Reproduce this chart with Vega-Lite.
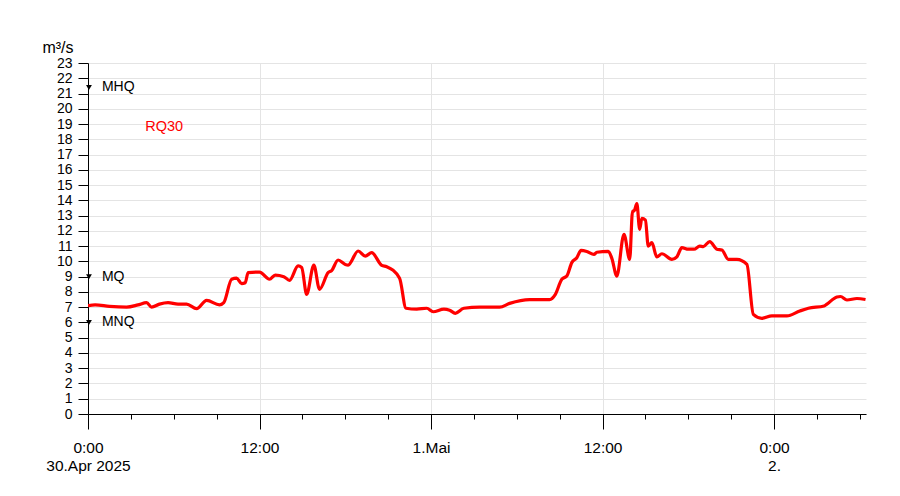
{
  "width": 778,
  "height": 351,
  "padding": {"left": 41, "top": 39, "right": 5, "bottom": 5},
  "background": "white",
  "config": {
    "view": {"stroke": null},
    "font": "Liberation Sans"
  },
  "datasets": {
    "flow": [
      {"t": "2025-04-30T00:00", "q": 7.1},
      {"t": "2025-04-30T00:30", "q": 7.15},
      {"t": "2025-04-30T01:30", "q": 7.05},
      {"t": "2025-04-30T02:42", "q": 7.0},
      {"t": "2025-04-30T03:30", "q": 7.15},
      {"t": "2025-04-30T04:06", "q": 7.3},
      {"t": "2025-04-30T04:27", "q": 7.0},
      {"t": "2025-04-30T05:00", "q": 7.2},
      {"t": "2025-04-30T05:36", "q": 7.3},
      {"t": "2025-04-30T06:18", "q": 7.2},
      {"t": "2025-04-30T06:54", "q": 7.2},
      {"t": "2025-04-30T07:36", "q": 6.9},
      {"t": "2025-04-30T08:18", "q": 7.45},
      {"t": "2025-04-30T09:12", "q": 7.15},
      {"t": "2025-04-30T09:30", "q": 7.3},
      {"t": "2025-04-30T10:03", "q": 8.83},
      {"t": "2025-04-30T10:24", "q": 8.9},
      {"t": "2025-04-30T10:45", "q": 8.54},
      {"t": "2025-04-30T11:00", "q": 8.6},
      {"t": "2025-04-30T11:12", "q": 9.26},
      {"t": "2025-04-30T12:00", "q": 9.3},
      {"t": "2025-04-30T12:42", "q": 8.83},
      {"t": "2025-04-30T13:06", "q": 9.1},
      {"t": "2025-04-30T13:42", "q": 9.0},
      {"t": "2025-04-30T14:06", "q": 8.76},
      {"t": "2025-04-30T14:42", "q": 9.7},
      {"t": "2025-04-30T14:57", "q": 9.6},
      {"t": "2025-04-30T15:18", "q": 7.84},
      {"t": "2025-04-30T15:48", "q": 9.76},
      {"t": "2025-04-30T16:12", "q": 8.17},
      {"t": "2025-04-30T16:48", "q": 9.26},
      {"t": "2025-04-30T17:03", "q": 9.4},
      {"t": "2025-04-30T17:30", "q": 10.09},
      {"t": "2025-04-30T18:00", "q": 9.8},
      {"t": "2025-04-30T18:12", "q": 9.76},
      {"t": "2025-04-30T18:54", "q": 10.68},
      {"t": "2025-04-30T19:24", "q": 10.35},
      {"t": "2025-04-30T19:51", "q": 10.57},
      {"t": "2025-04-30T20:33", "q": 9.74},
      {"t": "2025-04-30T20:54", "q": 9.65},
      {"t": "2025-04-30T21:48", "q": 8.89},
      {"t": "2025-04-30T22:15", "q": 6.93},
      {"t": "2025-04-30T23:00", "q": 6.87},
      {"t": "2025-04-30T23:42", "q": 6.93},
      {"t": "2025-05-01T00:09", "q": 6.7},
      {"t": "2025-05-01T00:54", "q": 6.87},
      {"t": "2025-05-01T01:18", "q": 6.8},
      {"t": "2025-05-01T01:42", "q": 6.6},
      {"t": "2025-05-01T02:18", "q": 6.93},
      {"t": "2025-05-01T03:24", "q": 7.0},
      {"t": "2025-05-01T04:48", "q": 7.0},
      {"t": "2025-05-01T05:30", "q": 7.25},
      {"t": "2025-05-01T06:54", "q": 7.5},
      {"t": "2025-05-01T08:18", "q": 7.5},
      {"t": "2025-05-01T08:42", "q": 7.84},
      {"t": "2025-05-01T09:09", "q": 8.83},
      {"t": "2025-05-01T09:30", "q": 9.04},
      {"t": "2025-05-01T09:51", "q": 9.92},
      {"t": "2025-05-01T10:12", "q": 10.24},
      {"t": "2025-05-01T10:30", "q": 10.72},
      {"t": "2025-05-01T10:54", "q": 10.65},
      {"t": "2025-05-01T11:24", "q": 10.46},
      {"t": "2025-05-01T11:36", "q": 10.6},
      {"t": "2025-05-01T12:24", "q": 10.65},
      {"t": "2025-05-01T12:39", "q": 10.2},
      {"t": "2025-05-01T13:00", "q": 9.04},
      {"t": "2025-05-01T13:30", "q": 11.78},
      {"t": "2025-05-01T13:54", "q": 10.13},
      {"t": "2025-05-01T14:06", "q": 13.3},
      {"t": "2025-05-01T14:12", "q": 13.3},
      {"t": "2025-05-01T14:24", "q": 13.78},
      {"t": "2025-05-01T14:36", "q": 12.1},
      {"t": "2025-05-01T14:45", "q": 12.82},
      {"t": "2025-05-01T15:00", "q": 12.7},
      {"t": "2025-05-01T15:12", "q": 11.0},
      {"t": "2025-05-01T15:27", "q": 11.23},
      {"t": "2025-05-01T15:48", "q": 10.29},
      {"t": "2025-05-01T16:09", "q": 10.5},
      {"t": "2025-05-01T16:51", "q": 10.13},
      {"t": "2025-05-01T17:12", "q": 10.3},
      {"t": "2025-05-01T17:33", "q": 10.9},
      {"t": "2025-05-01T18:00", "q": 10.8},
      {"t": "2025-05-01T18:24", "q": 10.8},
      {"t": "2025-05-01T18:48", "q": 11.0},
      {"t": "2025-05-01T19:03", "q": 10.97},
      {"t": "2025-05-01T19:30", "q": 11.3},
      {"t": "2025-05-01T20:00", "q": 10.8},
      {"t": "2025-05-01T20:21", "q": 10.75},
      {"t": "2025-05-01T20:48", "q": 10.13},
      {"t": "2025-05-01T21:24", "q": 10.13},
      {"t": "2025-05-01T22:06", "q": 9.8},
      {"t": "2025-05-01T22:33", "q": 6.53},
      {"t": "2025-05-01T23:09", "q": 6.27},
      {"t": "2025-05-01T23:51", "q": 6.43},
      {"t": "2025-05-02T00:54", "q": 6.43},
      {"t": "2025-05-02T01:48", "q": 6.75},
      {"t": "2025-05-02T02:24", "q": 6.93},
      {"t": "2025-05-02T03:30", "q": 7.08},
      {"t": "2025-05-02T03:42", "q": 7.2},
      {"t": "2025-05-02T04:24", "q": 7.67},
      {"t": "2025-05-02T04:39", "q": 7.7},
      {"t": "2025-05-02T05:06", "q": 7.47},
      {"t": "2025-05-02T05:48", "q": 7.57},
      {"t": "2025-05-02T06:24", "q": 7.5}
    ],
    "refs": [
      {"t": "2025-04-30T00:04", "q": 21.4, "label": "MHQ"},
      {"t": "2025-04-30T00:04", "q": 9.0, "label": "MQ"},
      {"t": "2025-04-30T00:04", "q": 6.0, "label": "MNQ"}
    ],
    "rq": [
      {"t": "2025-04-30T04:00", "q": 18.8, "label": "RQ30"}
    ]
  },
  "encoding": {
    "x": {
      "field": "t", "type": "temporal", "title": null,
      "scale": {"domain": ["2025-04-30T00:00", "2025-05-02T06:26"], "nice": false},
      "axis": {
        "values": [
          "2025-04-30T00:00", "2025-04-30T03:00", "2025-04-30T06:00", "2025-04-30T09:00",
          "2025-04-30T12:00", "2025-04-30T15:00", "2025-04-30T18:00", "2025-04-30T21:00",
          "2025-05-01T00:00", "2025-05-01T03:00", "2025-05-01T06:00", "2025-05-01T09:00",
          "2025-05-01T12:00", "2025-05-01T15:00", "2025-05-01T18:00", "2025-05-01T21:00",
          "2025-05-02T00:00", "2025-05-02T03:00", "2025-05-02T06:00"
        ],
        "domainColor": "#000000",
        "tickColor": "#000000",
        "tickSize": {"condition": {"test": "hours(datum.value) % 12 == 0", "value": 15}, "value": 5},
        "grid": true,
        "gridColor": "#e4e4e4",
        "gridOpacity": {"condition": {"test": "hours(datum.value) % 12 == 0", "value": 1}, "value": 0},
        "labelExpr": "hours(datum.value) % 12 != 0 ? '' : hours(datum.value) == 12 ? '12:00' : date(datum.value) == 30 ? ['0:00', '30.Apr 2025'] : date(datum.value) == 1 ? '1.Mai' : ['0:00', '2.']",
        "labelFontSize": 15.5,
        "labelColor": "#000000",
        "labelLineHeight": 18,
        "labelPadding": 11,
        "labelFlush": false,
        "labelOverlap": false,
        "labelBaseline": "top"
      }
    },
    "y": {
      "field": "q", "type": "quantitative",
      "scale": {"domain": [0, 23], "nice": false},
      "axis": {
        "values": [0,1,2,3,4,5,6,7,8,9,10,11,12,13,14,15,16,17,18,19,20,21,22,23],
        "title": "m³/s",
        "titleAngle": 0,
        "titleX": -15,
        "titleY": -16,
        "titleAlign": "right",
        "titleBaseline": "middle",
        "titleFontSize": 16,
        "titleFontWeight": "normal",
        "titleColor": "#000000",
        "domainColor": "#000000",
        "tickColor": "#000000",
        "tickSize": 10,
        "labelPadding": 6,
        "labelFontSize": 14,
        "labelColor": "#000000",
        "labelOverlap": false,
        "labelFlush": false,
        "grid": true,
        "gridColor": "#e4e4e4"
      }
    }
  },
  "layer": [
    {
      "data": {"name": "flow"},
      "mark": {"type": "line", "color": "#ff0000", "strokeWidth": 3.2, "interpolate": "monotone", "clip": true}
    },
    {
      "data": {"name": "refs"},
      "mark": {"type": "point", "shape": "triangle-down", "filled": true, "color": "#000000", "size": 34, "opacity": 1}
    },
    {
      "data": {"name": "refs"},
      "mark": {"type": "text", "align": "left", "baseline": "middle", "dx": 13, "fontSize": 14, "color": "#000000"},
      "encoding": {"text": {"field": "label"}}
    },
    {
      "data": {"name": "rq"},
      "mark": {"type": "text", "align": "left", "baseline": "middle", "fontSize": 14.5, "color": "#ff0000"},
      "encoding": {"text": {"field": "label"}}
    }
  ]
}
